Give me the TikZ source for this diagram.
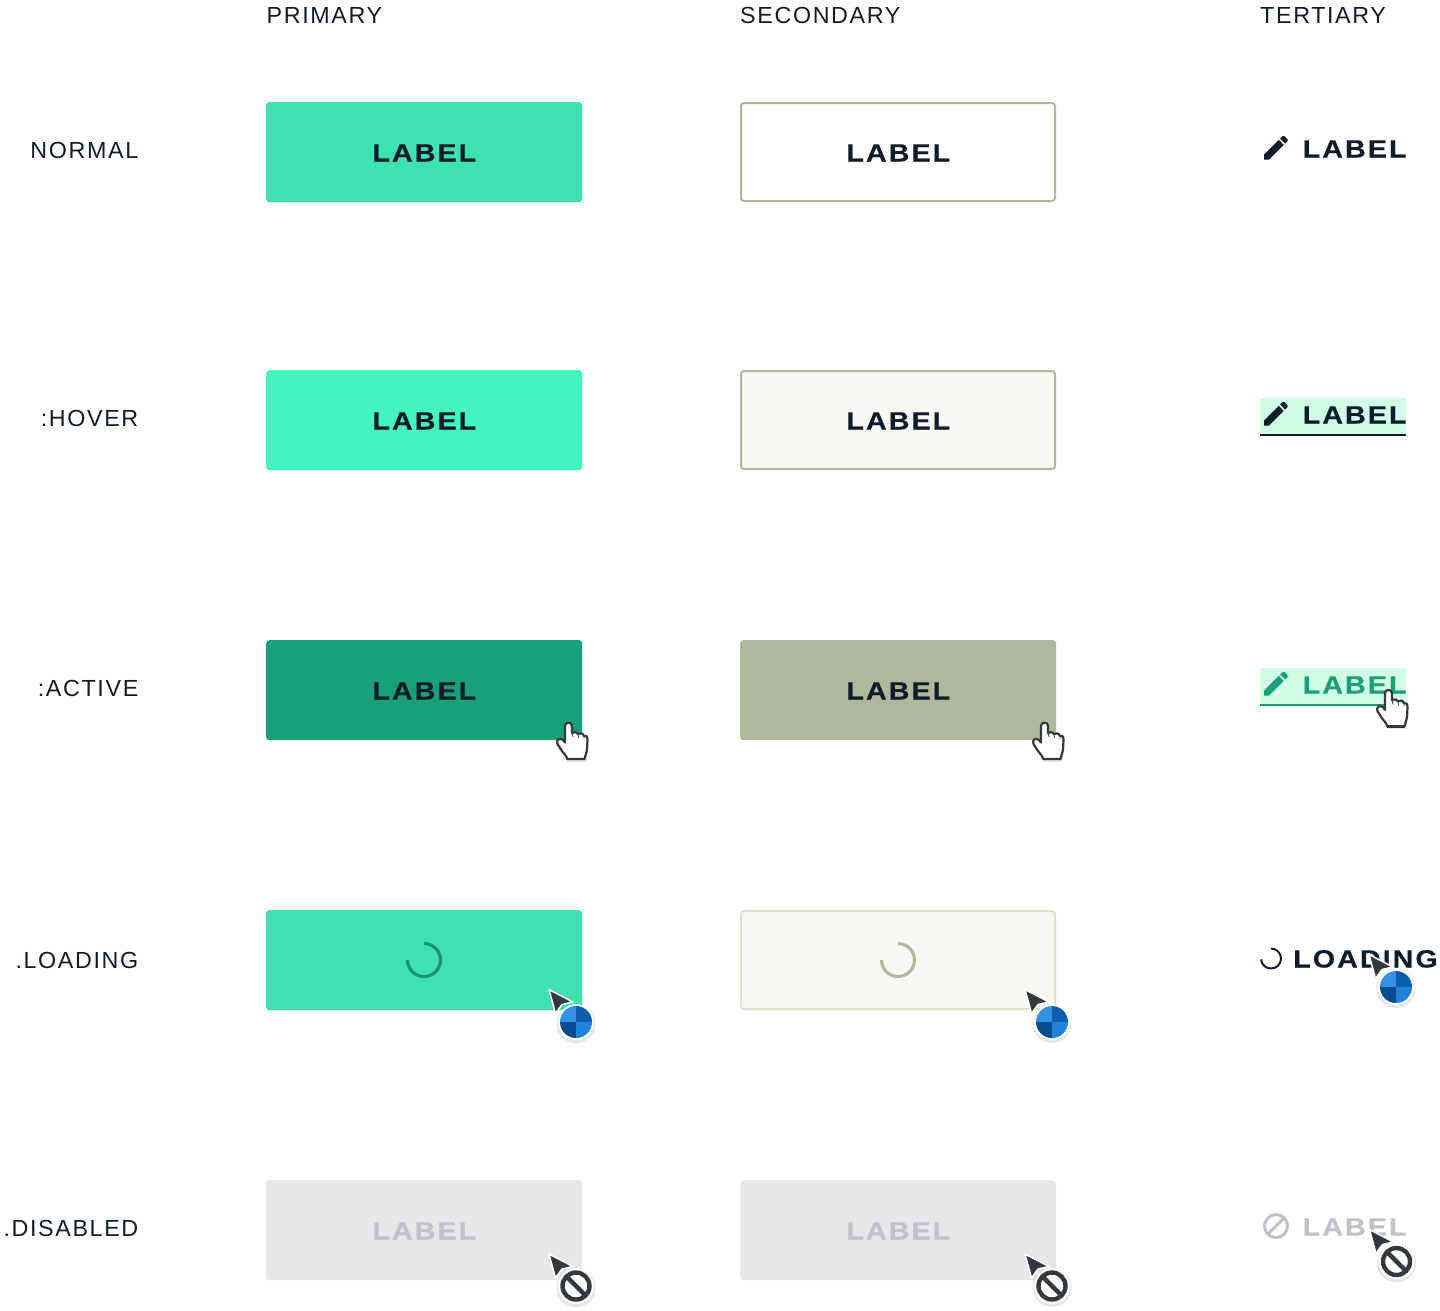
\documentclass[tikz,border=0pt]{standalone}
\usepackage{fontspec}
\setmainfont{Liberation Sans}
\newfontfamily\btnfont[FakeStretch=1.15,FakeBold=0.35,LetterSpace=8]{Liberation Sans Bold}
\newfontfamily\capfont[LetterSpace=7]{Liberation Sans}
\definecolor{ink}{HTML}{0E1C2C}
\definecolor{pnormal}{HTML}{3DE2AE}
\definecolor{phover}{HTML}{44F5BE}
\definecolor{pactive}{HTML}{1AA077}
\definecolor{sborder}{HTML}{B0B89B}
\definecolor{sfill}{HTML}{F7F8F1}
\definecolor{sload}{HTML}{DDE1C8}
\definecolor{dfill}{HTML}{E6E7E9}
\definecolor{dtext}{HTML}{BFC2C6}
\definecolor{thl}{HTML}{CFFDE6}
\definecolor{curs}{HTML}{33393C}
\definecolor{bluetl}{HTML}{3591E6}
\definecolor{bluetr}{HTML}{0A5FAF}
\definecolor{bluebl}{HTML}{0A4C90}
\definecolor{bluebr}{HTML}{2182DC}
\tikzset{
  x=1pt,y=-1pt,
  capt/.style={inner sep=0,text=ink,font=\fontsize{23.3}{24}\selectfont\capfont},
  lbl/.style={inner sep=0,text=ink,font=\fontsize{25}{25}\selectfont\btnfont},
  btnbox/.style={rounded corners=3pt,minimum width=316pt,minimum height=100pt,inner sep=0,anchor=north west},
  btnline/.style={btnbox,minimum width=314pt,minimum height=98pt,line width=2pt},
  spin/.style={line width=3pt},
  pics/pencil/.style={code={
    \begin{scope}[x=1.3333pt,y=-1.3333pt]
    \fill[#1] (3,17.25) -- (3,21) -- (6.75,21) -- (17.81,9.94) -- (14.06,6.19) -- cycle;
    \fill[#1] (20.71,7.04) .. controls (21.1,6.65) and (21.1,6.02) .. (20.71,5.63) -- (18.37,3.29) .. controls (17.98,2.9) and (17.35,2.9) .. (16.96,3.29) -- (15.13,5.12) -- (18.88,8.87) -- cycle;
    \end{scope}}},
  pics/hand/.style={code={
    \fill[black,opacity=.10] (27,44) rectangle (47,52);
    \draw[fill=white,draw=curs,line width=2.2pt,line join=round]
      (25,16) .. controls (25,11.5) and (32,11.5) .. (32,16) -- (32,23)
      .. controls (34,21.5) and (37,21.5) .. (38,24)
      .. controls (40,22.5) and (43,23) .. (44,26)
      .. controls (46,25) and (47.5,26) .. (47.5,30)
      -- (47,40) .. controls (46.5,44) and (45,45) .. (44.5,49)
      -- (27,49) .. controls (27,46) and (24,44) .. (22,41)
      -- (17.5,34) .. controls (15.5,30) and (20,27) .. (23,30)
      -- (25,32.5) -- cycle;
    \draw[curs,line width=.8pt] (32,23) -- (33,27) (38,24) -- (38.5,28) (44,26) -- (44,29);
    \draw[curs,line width=2.8pt] (27,49) -- (44.5,49);
  }},
  pics/arrowcur/.style={code={
    \draw[fill=curs,draw=white,line width=1.5pt,line join=round]
      (9,9.5) -- (33,22) -- (22,24.5) -- (15.5,33.5) -- cycle;
  }},
  pics/busy/.style={code={
    \pic {arrowcur};
    \fill[black,opacity=.10] (36,43.5) circle (19.5);
    \fill[white] (36,42) circle (18);
    \begin{scope}
      \clip (36,42) circle (16);
      \fill[bluetl] (19,25) rectangle (36,42);
      \fill[bluetr] (36,25) rectangle (53,42);
      \fill[bluebl] (19,42) rectangle (36,59);
      \fill[bluebr] (36,42) rectangle (53,59);
    \end{scope}
  }},
  pics/forbid/.style={code={
    \pic {arrowcur};
    \fill[black,opacity=.10] (36,43) circle (19.5);
    \fill[white] (36,41.5) circle (18);
    \draw[curs,line width=4.4pt] (36,41.5) circle (13.5);
    \draw[curs,line width=4.4pt] (26.5,32) -- (45.5,51);
  }}
}
\newcommand{\btnA}[5]{% name, x, y, fill, text colour
  \node[btnbox,fill=#4] (#1) at (#2,#3) {};
  \node[lbl,text=#5,anchor=base] (#1t) at (#2+158.3,#3+59.5) {LABEL};}
\newcommand{\btnB}[6]{% name, x, y, fill, border, text colour
  \node[btnline,fill=#4,draw=#5] (#1) at (#2,#3) {};
  \node[lbl,text=#6,anchor=base] (#1t) at (#2+158.3,#3+59.5) {LABEL};}
\begin{document}
\begin{tikzpicture}
\path[use as bounding box,fill=white] (0,0) rectangle (1440,1310);
% headers
\node[capt,anchor=base west] (hp) at (266.5,23.5) {PRIMARY};
\node[capt,anchor=base west] (hs) at (740,23.5) {SECONDARY};
\node[capt,anchor=base west] (ht) at (1260,23.5) {TERTIARY};
% row labels
\node[capt,anchor=base east] (rn) at (138.5,158) {NORMAL};
\node[capt,anchor=base east] (rh) at (138.5,426) {:HOVER};
\node[capt,anchor=base east] (ra) at (138.5,696) {:ACTIVE};
\node[capt,anchor=base east] (rl) at (138.5,968) {.LOADING};
\node[capt,anchor=base east] (rd) at (138.5,1236) {.DISABLED};
% primary
\btnA{pn}{266}{102}{pnormal}{ink}
\btnA{ph}{266}{370}{phover}{ink}
\btnA{pa}{266}{640}{pactive}{ink}
\node[btnbox,fill=pnormal] (pl) at (266,910) {};
\node[btnbox,fill=dfill] (pd) at (266,1180) {};
\node[lbl,text=dtext,anchor=base] (pdt) at (424.3,1239.5) {LABEL};
\draw[spin,color=pactive!90!black] (424,943.5) arc[start angle=-90,end angle=180,radius=16.5];
% secondary
\btnB{sn}{740}{102}{white}{sborder}{ink}
\btnB{sh}{740}{370}{sfill}{sborder}{ink}
\btnA{sa}{740}{640}{sborder}{ink}
\node[btnline,fill=sfill,draw=sload] (sl) at (740,910) {};
\node[btnbox,fill=dfill] (sd) at (740,1180) {};
\node[lbl,text=dtext,anchor=base] (sdt) at (898.3,1239.5) {LABEL};
\draw[spin,color=sborder] (898,943.5) arc[start angle=-90,end angle=180,radius=16.5];
% tertiary normal
\pic at (1260,131.7) {pencil=ink};
\node[lbl,anchor=base west] (tn) at (1302.5,157.5) {LABEL};
% tertiary hover
\fill[thl] (1260,398) rectangle (1406,434);
\fill[ink] (1260,434) rectangle (1406,436);
\pic at (1260,397.7) {pencil=ink};
\node[lbl,anchor=base west] (th) at (1302.5,423.5) {LABEL};
% tertiary active
\fill[thl] (1260,668) rectangle (1406,704);
\fill[pactive] (1260,704) rectangle (1406,706);
\pic at (1260,667.7) {pencil=pactive};
\node[lbl,text=pactive,anchor=base west] (ta) at (1302.5,693.5) {LABEL};
% tertiary loading
\draw[ink,line width=2pt] (1271,948.5) arc[start angle=-90,end angle=175,radius=10];
\node[lbl,anchor=base west] (tl) at (1293,967.5) {LOADING};
% tertiary disabled
\draw[dtext,line width=3pt] (1276,1226) circle (11.5);
\draw[dtext,line width=3pt] (1268,1234) -- (1284,1218);
\node[lbl,text=dtext,anchor=base west] (td) at (1302.5,1235.5) {LABEL};
% cursors
\pic at (540,710) {hand};
\pic at (1016,710) {hand};
\pic at (1360,677.3) {hand};
\pic at (540,980) {busy};
\pic at (1016,980) {busy};
\pic at (1360,945) {busy};
\pic at (540,1244.5) {forbid};
\pic at (1016,1244.5) {forbid};
\pic at (1360.5,1220) {forbid};
\end{tikzpicture}
\end{document}
